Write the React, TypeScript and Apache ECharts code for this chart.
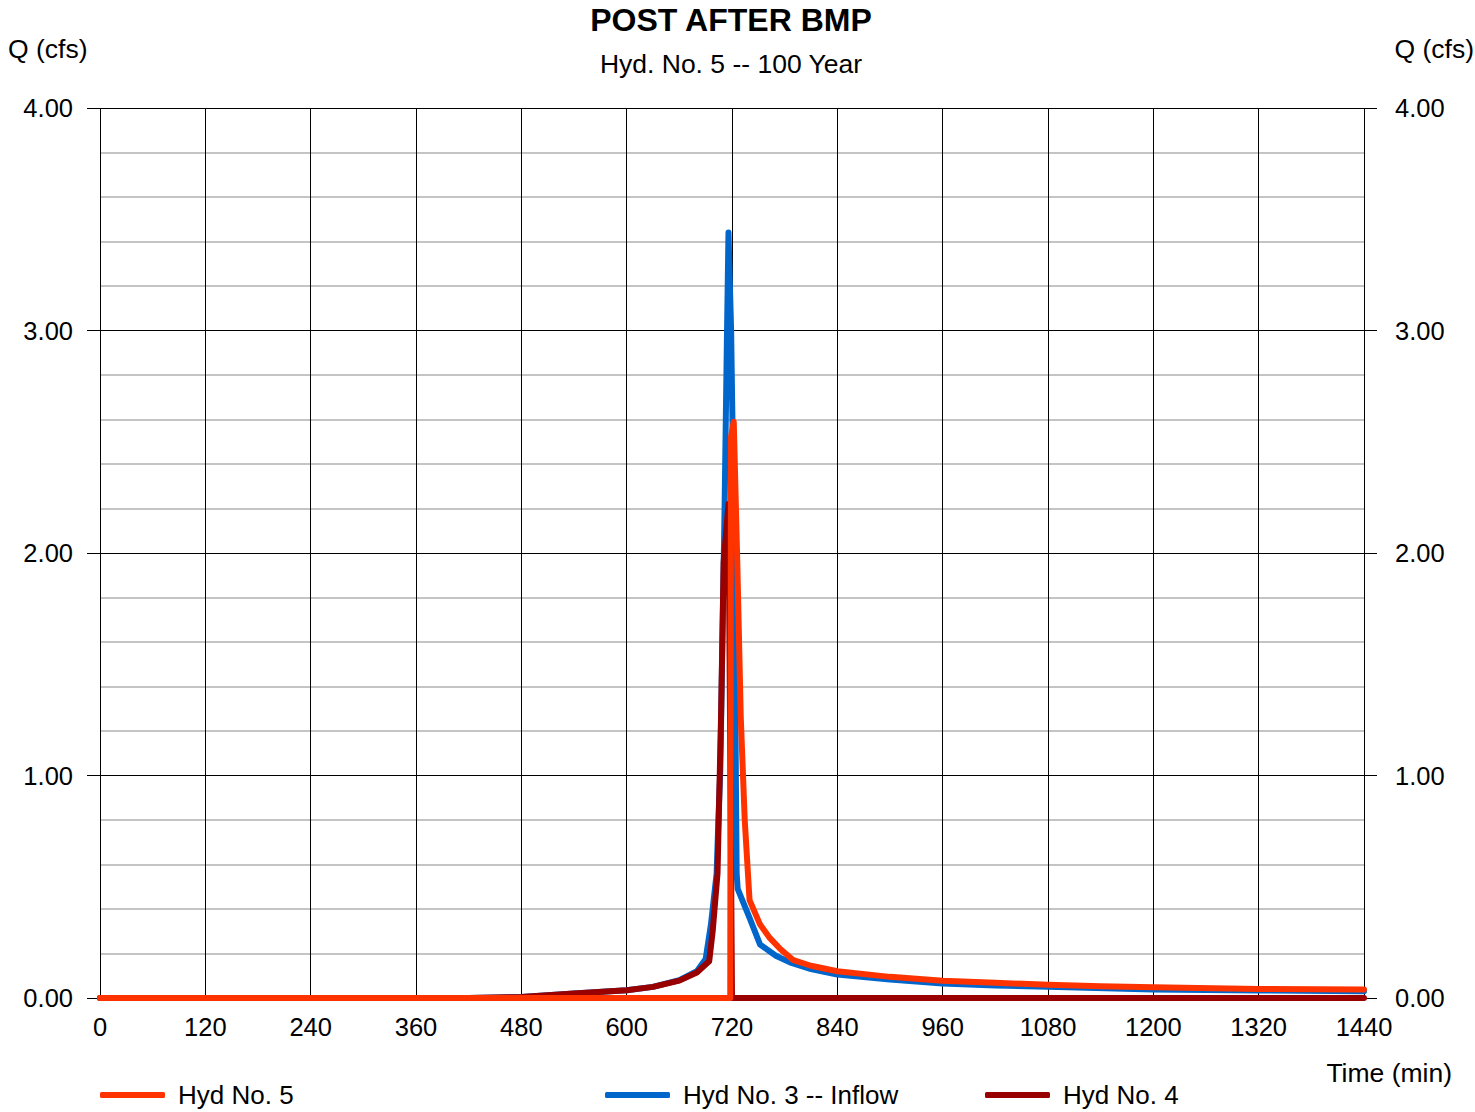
import React, { useEffect, useRef } from "react";
import * as echarts from "echarts";

// ---- Data (time in minutes, Q in cfs) ----
const xTicks = [0, 120, 240, 360, 480, 600, 720, 840, 960, 1080, 1200, 1320, 1440];

const hyd3Times = [0, 420, 480, 540, 600, 630, 660, 680, 690, 696, 702.5, 704.5, 706.7, 711.5, 714.2, 716, 719, 722, 724, 725.3, 726.5, 740, 752, 770, 786, 810, 840, 900, 960, 1020, 1080, 1200, 1320, 1440];
const hyd3Values = [0, 0, 0.005, 0.02, 0.035, 0.05, 0.08, 0.12, 0.175, 0.33, 0.56, 0.8, 1.03, 2.19, 2.96, 3.44, 3.0, 2.19, 1.2, 0.56, 0.49, 0.36, 0.24, 0.19, 0.16, 0.13, 0.105, 0.083, 0.065, 0.056, 0.05, 0.038, 0.034, 0.03];

const hyd4Times = [0, 420, 480, 540, 600, 630, 660, 680, 694, 698, 703.5, 707.5, 710.5, 716, 720, 1440];
const hyd4Values = [0, 0, 0.005, 0.02, 0.035, 0.05, 0.078, 0.115, 0.165, 0.3, 0.56, 1.26, 1.96, 2.22, 0, 0];

const hyd5Times = [0, 718, 718.8, 722, 726, 730, 734.5, 740, 752, 763, 775, 790, 810, 840, 900, 960, 1020, 1080, 1140, 1200, 1320, 1440];
const hyd5Values = [0, 0, 2.52, 2.59, 1.96, 1.26, 0.8, 0.44, 0.33, 0.27, 0.22, 0.17, 0.145, 0.12, 0.095, 0.078, 0.068, 0.06, 0.053, 0.048, 0.041, 0.038];

const seriesNames = ["Hyd No. 5", "Hyd No. 3 -- Inflow", "Hyd No. 4"];
const seriesColors = ["#FF3300", "#0066CC", "#990000"];

const zip = (t: number[], v: number[]) => t.map((x, i) => [x, v[i]]);

const FONT = "'Liberation Sans', Arial, sans-serif";

export default function App() {
  const ref = useRef<HTMLDivElement>(null);

  useEffect(() => {
    document.body.style.margin = "0";
    if (!ref.current) return;
    const chart = echarts.init(ref.current, undefined, { renderer: "svg" });

    const lineSeries = (name: string, color: string, data: number[][], z: number) => ({
      name,
      type: "line",
      data,
      showSymbol: false,
      symbol: "none",
      z,
      lineStyle: { color, width: 6, cap: "round", join: "round" },
      itemStyle: { color },
    });

    const legendCommon = {
      orient: "horizontal",
      top: 1082,
      padding: 0,
      itemWidth: 65,
      itemHeight: 6,
      icon: "roundRect",
      textStyle: { fontSize: 26, color: "#000", fontFamily: FONT, padding: [0, 0, 0, 8] },
      selectedMode: false,
    };

    const yAxisCommon = {
      type: "value",
      min: 0,
      max: 4,
      interval: 1,
      axisLine: { show: false },
      axisTick: { show: true, length: 13, lineStyle: { color: "#000", width: 1 } },
      axisLabel: {
        fontSize: 25.5,
        color: "#000",
        fontFamily: FONT,
        formatter: (v: number) => v.toFixed(2),
      },
    };

    chart.setOption({
      animation: false,
      backgroundColor: "#fff",
      textStyle: { fontFamily: FONT },
      grid: { left: 100, right: 111, top: 108, bottom: 114, containLabel: false },
      xAxis: {
        type: "value",
        min: 0,
        max: 1440,
        interval: 120,
        axisLine: { show: true, lineStyle: { color: "#000", width: 1 } },
        axisTick: { show: false },
        axisLabel: {
          fontSize: 25.5,
          color: "#000",
          fontFamily: FONT,
          margin: 16,
          formatter: (v: number) => (xTicks.includes(v) ? String(v) : ""),
        },
        splitLine: { show: true, lineStyle: { color: "#000", width: 1 } },
      },
      yAxis: [
        {
          ...yAxisCommon,
          position: "left",
          axisLabel: { ...yAxisCommon.axisLabel, margin: 27 },
          splitLine: { show: true, lineStyle: { color: "#000", width: 1 } },
          minorTick: { show: false, splitNumber: 5 },
          minorSplitLine: { show: true, lineStyle: { color: "#c4c4c4", width: 2 } },
        },
        {
          ...yAxisCommon,
          position: "right",
          axisLabel: { ...yAxisCommon.axisLabel, margin: 31 },
          splitLine: { show: false },
        },
      ],
      legend: [
        { ...legendCommon, left: 100, data: [seriesNames[0]] },
        { ...legendCommon, left: 605, data: [seriesNames[1]] },
        { ...legendCommon, left: 985, data: [seriesNames[2]] },
      ],
      graphic: [
        {
          type: "text",
          x: 731,
          y: 20,
          style: { text: "POST AFTER BMP", fill: "#000", font: `bold 32px ${FONT}`, textAlign: "center", textVerticalAlign: "middle" },
        },
        {
          type: "text",
          x: 731,
          y: 64,
          style: { text: "Hyd. No. 5 -- 100 Year", font: `26.5px ${FONT}`, fill: "#000", textAlign: "center", textVerticalAlign: "middle" },
        },
        {
          type: "text",
          x: 8,
          y: 49,
          style: { text: "Q (cfs)", font: `26.5px ${FONT}`, fill: "#000", textAlign: "left", textVerticalAlign: "middle" },
        },
        {
          type: "text",
          x: 1474,
          y: 49,
          style: { text: "Q (cfs)", font: `26.5px ${FONT}`, fill: "#000", textAlign: "right", textVerticalAlign: "middle" },
        },
        {
          type: "text",
          x: 1452,
          y: 1073,
          style: { text: "Time (min)", font: `26.5px ${FONT}`, fill: "#000", textAlign: "right", textVerticalAlign: "middle" },
        },
      ],
      series: [
        lineSeries(seriesNames[1], seriesColors[1], zip(hyd3Times, hyd3Values), 2),
        lineSeries(seriesNames[2], seriesColors[2], zip(hyd4Times, hyd4Values), 3),
        lineSeries(seriesNames[0], seriesColors[0], zip(hyd5Times, hyd5Values), 4),
      ],
    });

    return () => chart.dispose();
  }, []);

  return <div ref={ref} style={{ width: 1475, height: 1112 }} />;
}
